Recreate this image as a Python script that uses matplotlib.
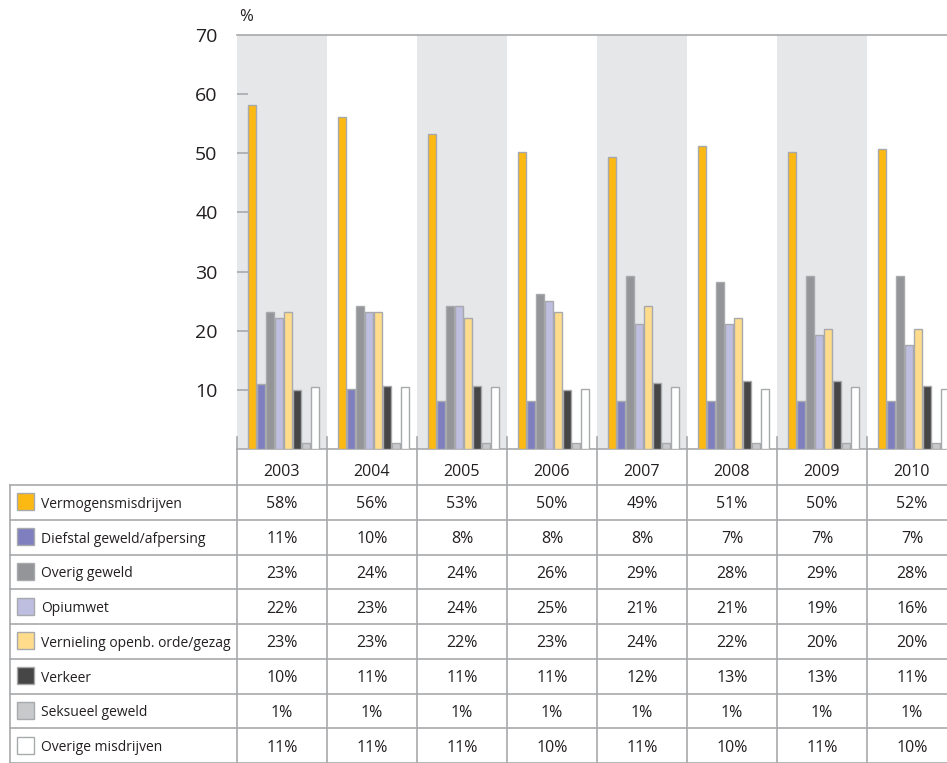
import matplotlib
matplotlib.use("Agg")
import matplotlib.pyplot as plt
from matplotlib.patches import Rectangle

plt.rcParams['font.family'] = ['Open Sans', 'DejaVu Sans']

years = ["2003", "2004", "2005", "2006", "2007", "2008", "2009", "2010"]
categories = ["Vermogensmisdrijven", "Diefstal geweld/afpersing", "Overig geweld",
              "Opiumwet", "Vernieling openb. orde/gezag", "Verkeer",
              "Seksueel geweld", "Overige misdrijven"]
colors = ["#FDB913", "#7F7FBF", "#939598", "#BEBEE0", "#FFDB8C", "#464646",
          "#C8C9CB", "#FFFFFF"]

# bar heights as drawn
vermogen_bar = [58.2, 56.2, 53.2, 50.2, 49.3, 51.2, 50.2, 50.8]
diefstal_bar = [11.0, 10.2, 8.2, 8.2, 8.2, 8.2, 8.2, 8.2]
overig_geweld_bar = [23.2, 24.2, 24.2, 26.2, 29.2, 28.2, 29.2, 29.2]
opium_bar = [22.2, 23.2, 24.2, 25.0, 21.2, 21.2, 19.2, 17.6]
vernieling_bar = [23.2, 23.2, 22.2, 23.2, 24.2, 22.2, 20.3, 20.3]
verkeer_bar = [10.0, 10.7, 10.7, 10.0, 11.2, 11.5, 11.5, 10.7]
seksueel_bar = [1.0, 1.0, 1.0, 1.0, 1.0, 1.0, 1.0, 1.0]
overige_bar = [10.5, 10.5, 10.5, 10.2, 10.5, 10.2, 10.5, 10.2]
bar_series = [vermogen_bar, diefstal_bar, overig_geweld_bar, opium_bar,
              vernieling_bar, verkeer_bar, seksueel_bar, overige_bar]

# table values (as printed)
vermogen_tab = [58, 56, 53, 50, 49, 51, 50, 52]
diefstal_tab = [11, 10, 8, 8, 8, 7, 7, 7]
overig_geweld_tab = [23, 24, 24, 26, 29, 28, 29, 28]
opium_tab = [22, 23, 24, 25, 21, 21, 19, 16]
vernieling_tab = [23, 23, 22, 23, 24, 22, 20, 20]
verkeer_tab = [10, 11, 11, 11, 12, 13, 13, 11]
seksueel_tab = [1, 1, 1, 1, 1, 1, 1, 1]
overige_tab = [11, 11, 11, 10, 11, 10, 11, 10]
table_series = [vermogen_tab, diefstal_tab, overig_geweld_tab, opium_tab,
                vernieling_tab, verkeer_tab, seksueel_tab, overige_tab]

yticks = [10, 20, 30, 40, 50, 60, 70]

W, H = 947, 763
fig = plt.figure(figsize=(W / 100, H / 100), dpi=100)

# layout in pixels
x0 = 237          # left of chart / first year column
colw = 90         # width of a year column
y_base = 449      # baseline pixel
y_top = 35        # pixel of 70
tab_left = 10
header_bot = 485
row_h = 34.75
line_col = "#A7A9AC"
text_col = "#231F20"
shade = "#E6E7E8"

ax = fig.add_axes([x0 / W, (H - y_base) / H, (W - x0) / W, (y_base - y_top) / H])
ax.set_xlim(0, (W - x0) / colw)
ax.set_ylim(0, 70)
for s in ["left", "right"]:
    ax.spines[s].set_visible(False)
for s in ["top", "bottom"]:
    ax.spines[s].set_color(line_col)
    ax.spines[s].set_linewidth(1.2)

for i in range(len(years)):
    if i % 2 == 0:
        ax.axvspan(i, i + 1, color=shade, lw=0, zorder=0)

pitch = 9 / colw
bw = 8 / colw
start = 11 / colw
for k, (vals, c) in enumerate(zip(bar_series, colors)):
    xs = [i + start + k * pitch for i in range(len(years))]
    ax.bar(xs, vals, width=bw, align="edge", color=c, edgecolor=line_col,
           linewidth=1.0, zorder=3)

# column boundary ticks at the bottom
for i in range(len(years)):
    ax.plot([i, i], [0, 2], color=line_col, lw=1.2, zorder=2, clip_on=False)

ax.set_xticks([])
ax.set_yticks(yticks)
ax.set_yticklabels([str(v) for v in yticks], fontsize=14, color=text_col)
ax.tick_params(axis="y", direction="in", length=8, width=1.2, color=line_col,
               pad=14)
ax.yaxis.get_major_ticks()[-1].tick1line.set_visible(False)
ax.text(0.003, 1.025, "%", transform=ax.transAxes, fontsize=12, color=text_col,
        ha="left", va="bottom")

# overlay for the table (pixel coordinates)
ov = fig.add_axes([0, 0, 1, 1])
ov.set_xlim(0, W)
ov.set_ylim(H, 0)
ov.axis("off")

lw = 1.2
# header row
ov.plot([x0, W], [header_bot, header_bot], color=line_col, lw=lw)
ov.plot([tab_left, x0], [header_bot, header_bot], color=line_col, lw=lw)
for i, yr in enumerate(years):
    xl = x0 + i * colw
    ov.plot([xl, xl], [y_base, H], color=line_col, lw=lw)
    ov.text(xl + colw / 2, 476, yr, ha="center",
            va="baseline", fontsize=11.5, color=text_col)
ov.plot([tab_left, tab_left], [header_bot, H], color=line_col, lw=lw)

for r, (cat, c, vals) in enumerate(zip(categories, colors, table_series)):
    yt = header_bot + r * row_h
    yb = yt + row_h
    ov.plot([tab_left, W], [yb, yb], color=line_col, lw=lw)
    ym = (yt + yb) / 2
    ov.add_patch(Rectangle((17, ym - 9), 17, 17, facecolor=c,
                           edgecolor=line_col, lw=1.0))
    ov.text(41, ym + 5.5, cat, ha="left", va="baseline", fontsize=10,
            color=text_col)
    for i, v in enumerate(vals):
        ov.text(x0 + i * colw + colw / 2, ym + 6, f"{v}%", ha="center",
                va="baseline", fontsize=11.5, color=text_col)

fig.savefig("out.png", dpi=100)
